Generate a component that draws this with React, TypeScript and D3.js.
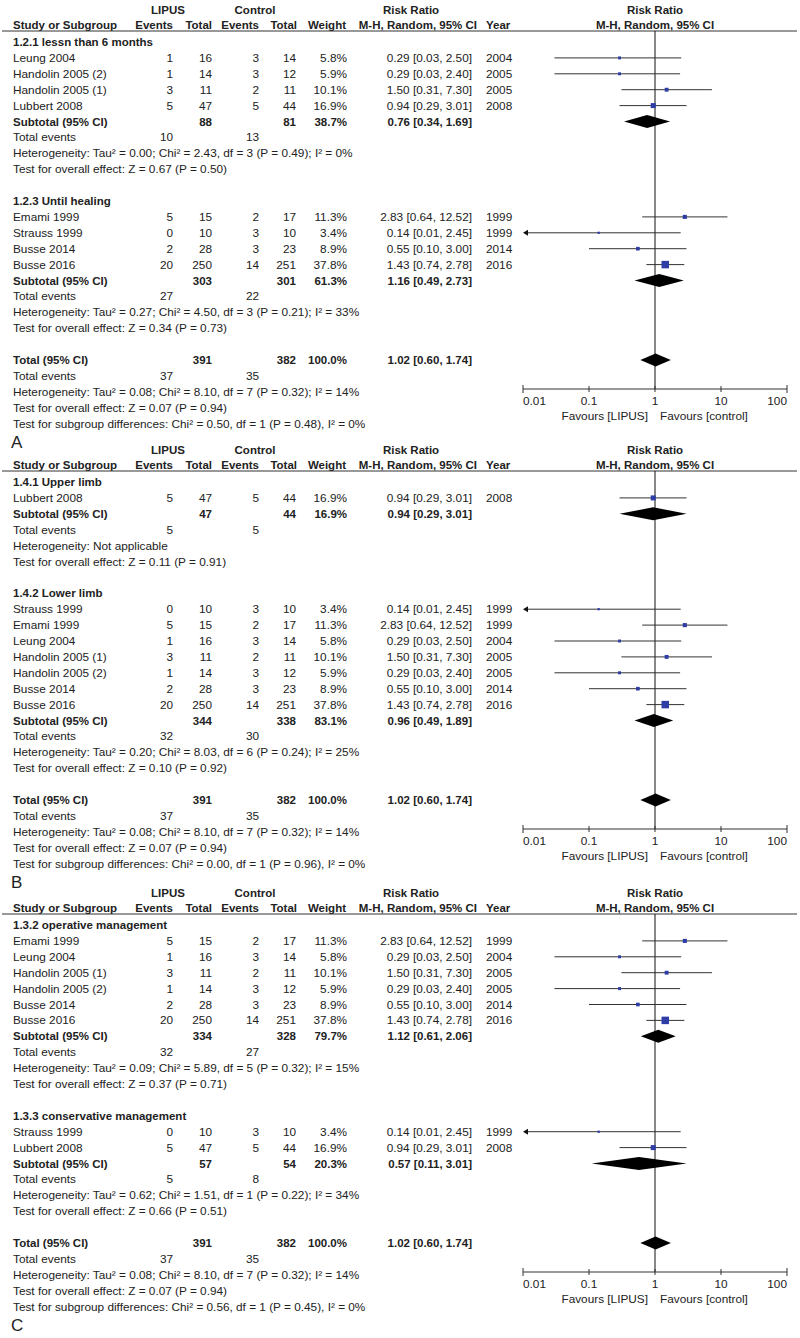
import React from "react";
import * as d3 from "d3";

// study level data (Risk Ratio, M-H random)
const studyNames = ["Leung 2004", "Handolin 2005 (2)", "Handolin 2005 (1)", "Lubbert 2008", "Emami 1999", "Strauss 1999", "Busse 2014", "Busse 2016"];
const lipusEvents = [1, 1, 3, 5, 5, 0, 2, 20];
const lipusTotal = [16, 14, 11, 47, 15, 10, 28, 250];
const ctrlEvents = [3, 3, 2, 5, 2, 3, 3, 14];
const ctrlTotal = [14, 12, 11, 44, 17, 10, 23, 251];
const weights = [5.8, 5.9, 10.1, 16.9, 11.3, 3.4, 8.9, 37.8];
const rrEst = [0.29, 0.29, 1.5, 0.94, 2.83, 0.14, 0.55, 1.43];
const rrLo = [0.03, 0.03, 0.31, 0.29, 0.64, 0.01, 0.1, 0.74];
const rrHi = [2.5, 2.4, 7.3, 3.01, 12.52, 2.45, 3.0, 2.78];
const years = [2004, 2005, 2005, 2008, 1999, 1999, 2014, 2016];

// subgroups per panel (A, B, C)
const panelLetters = ["A", "B", "C"];
const groupTitles = [
  ["1.2.1 lessn than 6 months", "1.2.3 Until healing"],
  ["1.4.1 Upper limb", "1.4.2 Lower limb"],
  ["1.3.2 operative management", "1.3.3 conservative management"],
];
const groupStudies = [
  [[0, 1, 2, 3], [4, 5, 6, 7]],
  [[3], [5, 4, 0, 2, 1, 6, 7]],
  [[4, 0, 2, 1, 6, 7], [5, 3]],
];
const subLipusTotal = [[88, 303], [47, 344], [334, 57]];
const subCtrlTotal = [[81, 301], [44, 338], [328, 54]];
const subWeight = [[38.7, 61.3], [16.9, 83.1], [79.7, 20.3]];
const subRR = [[0.76, 1.16], [0.94, 0.96], [1.12, 0.57]];
const subLo = [[0.34, 0.49], [0.29, 0.49], [0.61, 0.11]];
const subHi = [[1.69, 2.73], [3.01, 1.89], [2.06, 3.01]];
const subLipusEv = [[10, 27], [5, 32], [32, 5]];
const subCtrlEv = [[13, 22], [5, 30], [27, 8]];
const subHet = [
  ["Heterogeneity: Tau² = 0.00; Chi² = 2.43, df = 3 (P = 0.49); I² = 0%", "Heterogeneity: Tau² = 0.27; Chi² = 4.50, df = 3 (P = 0.21); I² = 33%"],
  ["Heterogeneity: Not applicable", "Heterogeneity: Tau² = 0.20; Chi² = 8.03, df = 6 (P = 0.24); I² = 25%"],
  ["Heterogeneity: Tau² = 0.09; Chi² = 5.89, df = 5 (P = 0.32); I² = 15%", "Heterogeneity: Tau² = 0.62; Chi² = 1.51, df = 1 (P = 0.22); I² = 34%"],
];
const subTest = [
  ["Test for overall effect: Z = 0.67 (P = 0.50)", "Test for overall effect: Z = 0.34 (P = 0.73)"],
  ["Test for overall effect: Z = 0.11 (P = 0.91)", "Test for overall effect: Z = 0.10 (P = 0.92)"],
  ["Test for overall effect: Z = 0.37 (P = 0.71)", "Test for overall effect: Z = 0.66 (P = 0.51)"],
];
const subgroupDiff = [
  "Test for subgroup differences: Chi² = 0.50, df = 1 (P = 0.48), I² = 0%",
  "Test for subgroup differences: Chi² = 0.00, df = 1 (P = 0.96), I² = 0%",
  "Test for subgroup differences: Chi² = 0.56, df = 1 (P = 0.45), I² = 0%",
];
// overall
const totLipus = 391, totCtrl = 382, totRR = 1.02, totLo = 0.6, totHi = 1.74, totLipusEv = 37, totCtrlEv = 35;
const totHet = "Heterogeneity: Tau² = 0.08; Chi² = 8.10, df = 7 (P = 0.32); I² = 14%";
const totTest = "Test for overall effect: Z = 0.07 (P = 0.94)";
const axisTicks = [0.01, 0.1, 1, 10, 100];
const tickLabels = ["0.01", "0.1", "1", "10", "100"];

const FONT = "'Liberation Sans', Arial, sans-serif";
const TXT = "#222";
const BLUE = "#2e3da6";
const BOLD_SIZE = 11.5;

const panelTop = [0, 440, 883];
const rowH = 15.9;

const ciText = (r, l, h) => `${r.toFixed(2)} [${l.toFixed(2)}, ${h.toFixed(2)}]`;

function Panel({ p }) {
  const x = d3.scaleLog().domain([0.01, 100]).range([523, 787]);
  const sq = d3.scaleSqrt().domain([0, 37.8]).range([0, 7.5]);
  const top = panelTop[p];
  const rowY = (i) => top + 42 + i * rowH;

  // build the row list
  const rows = [];
  groupTitles[p].forEach((t, g) => {
    rows.push({ kind: "title", text: t });
    groupStudies[p][g].forEach((s) => rows.push({ kind: "study", s }));
    rows.push({ kind: "sub", g });
    rows.push({ kind: "events", a: subLipusEv[p][g], b: subCtrlEv[p][g] });
    rows.push({ kind: "note", text: subHet[p][g] });
    rows.push({ kind: "note", text: subTest[p][g] });
    rows.push({ kind: "blank" });
  });
  rows.push({ kind: "total" });
  rows.push({ kind: "events", a: totLipusEv, b: totCtrlEv });
  rows.push({ kind: "note", text: totHet });
  rows.push({ kind: "note", text: totTest });
  rows.push({ kind: "note", text: subgroupDiff[p] });

  const totalIdx = rows.findIndex((r) => r.kind === "total");
  const axisY = rowY(totalIdx) + 29;
  const lineY = top + 31;

  const diamond = (cy, lo, est, hi) => {
    const h = 6.5;
    return `M${x(lo)},${cy} L${x(est)},${cy - h} L${x(hi)},${cy} L${x(est)},${cy + h} Z`;
  };

  const cell = (xx, y, txt, anchor = "end", bold = false) => (
    <text x={xx} y={y + 4} textAnchor={anchor} fontWeight={bold ? "bold" : "normal"} fontSize={bold ? BOLD_SIZE : undefined}>{txt}</text>
  );

  return (
    <g>
      {/* headers */}
      <g fontWeight="bold" fontSize={BOLD_SIZE}>
        <text x={168} y={top + 14} textAnchor="middle">LIPUS</text>
        <text x={255} y={top + 14} textAnchor="middle">Control</text>
        <text x={411} y={top + 14} textAnchor="middle">Risk Ratio</text>
        <text x={655} y={top + 14} textAnchor="middle">Risk Ratio</text>
        <text x={13} y={top + 29}>Study or Subgroup</text>
        <text x={173} y={top + 29} textAnchor="end">Events</text>
        <text x={212} y={top + 29} textAnchor="end">Total</text>
        <text x={259} y={top + 29} textAnchor="end">Events</text>
        <text x={297} y={top + 29} textAnchor="end">Total</text>
        <text x={346} y={top + 29} textAnchor="end">Weight</text>
        <text x={477} y={top + 29} textAnchor="end">M-H, Random, 95% CI</text>
        <text x={486} y={top + 29}>Year</text>
        <text x={655} y={top + 29} textAnchor="middle">M-H, Random, 95% CI</text>
      </g>
      <line x1={2} x2={797} y1={lineY} y2={lineY} stroke="#333" strokeWidth={1} />

      {/* null line */}
      <line x1={x(1)} x2={x(1)} y1={lineY} y2={axisY} stroke="#111" strokeWidth={1} />

      {rows.map((r, i) => {
        const y = rowY(i);
        if (r.kind === "title") return <g key={i}>{cell(13, y, r.text, "start", true)}</g>;
        if (r.kind === "note") return <g key={i}>{cell(13, y, r.text, "start")}</g>;
        if (r.kind === "events")
          return (
            <g key={i}>
              {cell(13, y, "Total events", "start")}
              {cell(173, y, r.a)}
              {cell(259, y, r.b)}
            </g>
          );
        if (r.kind === "study") {
          const s = r.s;
          const lo = Math.max(rrLo[s], 0.01);
          const arrowL = rrLo[s] <= 0.01;
          const side = sq(weights[s]);
          return (
            <g key={i}>
              {cell(13, y, studyNames[s], "start")}
              {cell(173, y, lipusEvents[s])}
              {cell(212, y, lipusTotal[s])}
              {cell(259, y, ctrlEvents[s])}
              {cell(296, y, ctrlTotal[s])}
              {cell(347, y, weights[s].toFixed(1) + "%")}
              {cell(472, y, ciText(rrEst[s], rrLo[s], rrHi[s]))}
              {cell(486, y, years[s], "start")}
              <line x1={x(lo) + (arrowL ? 3 : 0)} x2={x(rrHi[s])} y1={y} y2={y} stroke="#333" strokeWidth={1} />
              {arrowL && <path d={`M${x(0.01)},${y} l5,-3 l0,6 Z`} fill="#111" />}
              <rect x={x(rrEst[s]) - side / 2} y={y - side / 2} width={side} height={side} fill={BLUE} />
            </g>
          );
        }
        if (r.kind === "sub") {
          const g = r.g;
          return (
            <g key={i}>
              {cell(13, y, "Subtotal (95% CI)", "start", true)}
              {cell(212, y, subLipusTotal[p][g], "end", true)}
              {cell(296, y, subCtrlTotal[p][g], "end", true)}
              {cell(347, y, subWeight[p][g].toFixed(1) + "%", "end", true)}
              {cell(472, y, ciText(subRR[p][g], subLo[p][g], subHi[p][g]), "end", true)}
              <path d={diamond(y, subLo[p][g], subRR[p][g], subHi[p][g])} fill="#000" />
            </g>
          );
        }
        if (r.kind === "total")
          return (
            <g key={i}>
              {cell(13, y, "Total (95% CI)", "start", true)}
              {cell(212, y, totLipus, "end", true)}
              {cell(296, y, totCtrl, "end", true)}
              {cell(347, y, "100.0%", "end", true)}
              {cell(472, y, ciText(totRR, totLo, totHi), "end", true)}
              <path d={diamond(y, totLo, totRR, totHi)} fill="#000" />
            </g>
          );
        return null;
      })}

      {/* axis */}
      <line x1={x(0.01)} x2={x(100)} y1={axisY} y2={axisY} stroke="#333" />
      {axisTicks.map((t, k) => {
        const end = k === 0 || k === axisTicks.length - 1;
        return (
          <g key={t}>
            <line x1={x(t)} x2={x(t)} y1={axisY - (end ? 4 : 3)} y2={axisY + (end ? 4 : 3)} stroke="#333" />
            <text x={x(t)} y={axisY + 16} textAnchor={k === 0 ? "start" : k === axisTicks.length - 1 ? "end" : "middle"}>
              {tickLabels[k]}
            </text>
          </g>
        );
      })}
      <text x={648} y={axisY + 31} textAnchor="end">Favours [LIPUS]</text>
      <text x={660} y={axisY + 31}>Favours [control]</text>

      <text x={11} y={rowY(rows.length - 1) + 24} fontSize={17}>{panelLetters[p]}</text>
    </g>
  );
}

export default function App() {
  return (
    <svg
      width={800}
      height={1338}
      style={{ position: "absolute", left: 0, top: 0, background: "#fff" }}
      fontFamily={FONT}
      fontSize={11.8}
      fill={TXT}
    >
      <rect width={800} height={1338} fill="#fff" />
      {[0, 1, 2].map((p) => (
        <Panel key={p} p={p} />
      ))}
    </svg>
  );
}
